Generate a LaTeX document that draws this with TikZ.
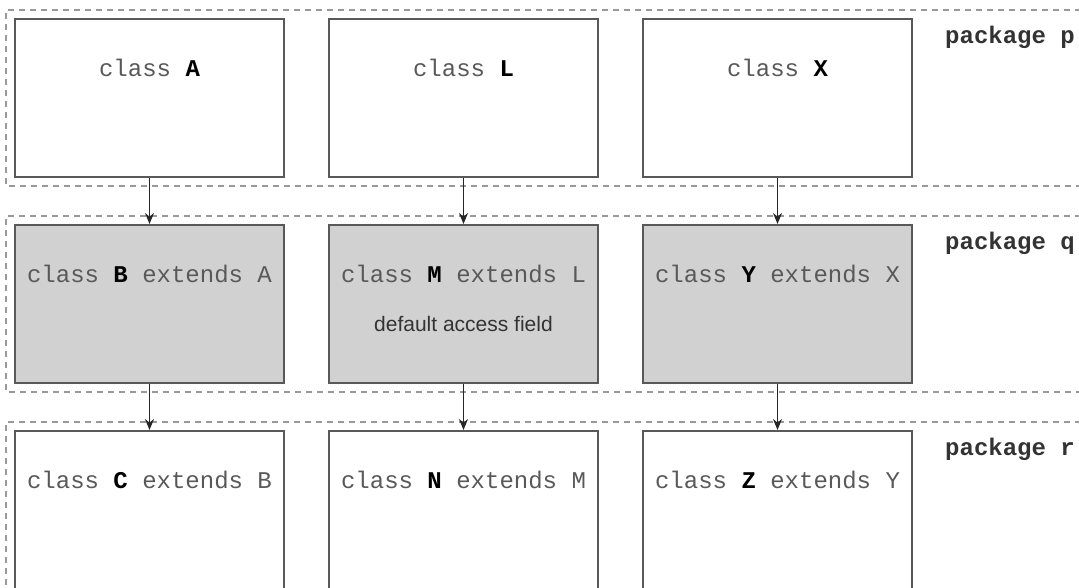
\documentclass[tikz,border=0pt]{standalone}
\usepackage{fontspec}
\setmainfont{Liberation Sans}
\setmonofont{Liberation Mono}
\usetikzlibrary{arrows.meta,positioning,calc}

\begin{document}
\begin{tikzpicture}[
  x=1pt, y=1pt,
  node distance=46pt and 43pt,
  box/.style={rectangle, draw=black!65, line width=2pt, minimum width=269pt, minimum height=158pt, inner sep=0pt},
  shaded/.style={box, fill=black!18},
  cls/.style={font=\fontsize{24}{28}\selectfont\ttfamily, text=black!65, inner sep=0pt},
  note/.style={font=\fontsize{21}{25}\selectfont, text=black!80, inner sep=0pt},
  pkg/.style={font=\fontsize{24}{28}\selectfont\ttfamily\bfseries, text=black!80, anchor=west, inner sep=0pt},
  pkgline/.style={dash pattern=on 6pt off 5pt, line width=1.8pt, draw=black!40},
  arrow/.style={-{Stealth[length=11pt,width=9pt]}, line width=1.5pt, draw=black!85}
]
  \useasboundingbox (-149.5,98) rectangle (929.5,-490);

  % classes
  \node[box] (A) {};
  \node[box, right=of A] (L) {};
  \node[box, right=of L] (X) {};
  \node[shaded, below=of A] (B) {};
  \node[shaded, below=of L] (M) {};
  \node[shaded, below=of X] (Y) {};
  \node[box, below=of B] (C) {};
  \node[box, below=of M] (N) {};
  \node[box, below=of Y] (Z) {};

  % package borders
  \foreach \b in {A,B,C}
    \draw[pkgline] ($(\b.north west)+(1100,8)$) -- ($(\b.north west)+(-8,8)$)
      -- ($(\b.south west)+(-8,-8)$) -- ($(\b.south west)+(1100,-8)$);

  \node[cls] (At) at ($(A.north)+(0,-50)$) {class \textbf{\color{black}A}};
  \node[cls] (Lt) at ($(L.north)+(0,-50)$) {class \textbf{\color{black}L}};
  \node[cls] (Xt) at ($(X.north)+(0,-50)$) {class \textbf{\color{black}X}};
  \node[cls] (Bt) at ($(B.north)+(0,-50)$) {class \textbf{\color{black}B} extends A};
  \node[cls] (Mt) at ($(M.north)+(0,-50)$) {class \textbf{\color{black}M} extends L};
  \node[cls] (Yt) at ($(Y.north)+(0,-50)$) {class \textbf{\color{black}Y} extends X};
  \node[cls] (Ct) at ($(C.north)+(0,-50)$) {class \textbf{\color{black}C} extends B};
  \node[cls] (Nt) at ($(N.north)+(0,-50)$) {class \textbf{\color{black}N} extends M};
  \node[cls] (Zt) at ($(Z.north)+(0,-50)$) {class \textbf{\color{black}Z} extends Y};
  \node[note] (field) at ($(M.north)+(0,-100)$) {default access field};

  \node[pkg] (pp) at ($(X.north east)+(32,-19)$) {package p};
  \node[pkg] (pq) at ($(Y.north east)+(32,-19)$) {package q};
  \node[pkg] (pr) at ($(Z.north east)+(32,-19)$) {package r};

  \draw[arrow] (A) -- (B);
  \draw[arrow] (L) -- (M);
  \draw[arrow] (X) -- (Y);
  \draw[arrow] (B) -- (C);
  \draw[arrow] (M) -- (N);
  \draw[arrow] (Y) -- (Z);
\end{tikzpicture}
\end{document}
